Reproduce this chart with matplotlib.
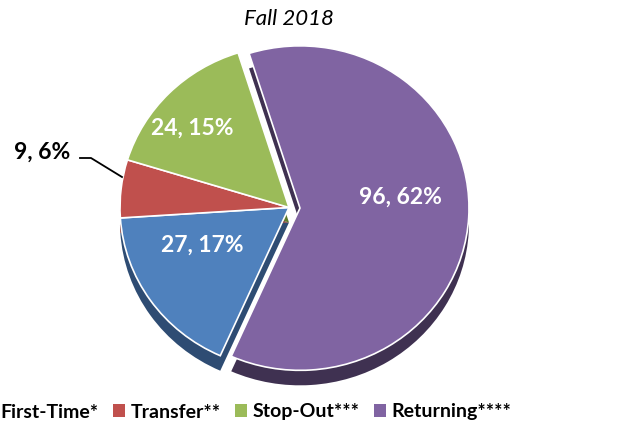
import matplotlib.pyplot as plt
from matplotlib.patches import Patch

categories = ['First-Time*', 'Transfer**', 'Stop-Out***', 'Returning****']
counts = [27, 9, 24, 96]
pct_labels = ['17%', '6%', '15%', '62%']
colors = ['#4F81BD', '#C0504D', '#9BBB59', '#8064A2']
dark = ['#2E4C73', '#7A2F2D', '#5E7A2E', '#3F3151']

plt.rcParams['font.family'] = ['Lato', 'DejaVu Sans']

W, H = 617, 429
fig = plt.figure(figsize=(W / 100, H / 100), dpi=100)

# pie axes, y squashed a little to give the tilted look
squash = 0.96
ax = fig.add_axes([0, 0, 1, 1])
cx, cy, r = 289, 221.5 / squash, 169
depth = 15 / squash
explode = [0, 0, 0, 11]  # data units, only Returning pulled out

ax.pie(counts, colors=dark, explode=explode, startangle=246, counterclock=False,
       center=(cx, cy - depth), radius=r, frame=True,
       wedgeprops=dict(linewidth=0))
ax.pie(counts, colors=colors, explode=explode, startangle=246,
       counterclock=False, center=(cx, cy), radius=r, frame=True,
       wedgeprops=dict(edgecolor='white', linewidth=1.2))
ax.set_xlim(0, W)
ax.set_ylim(0, H / squash)
ax.set_aspect('auto')
ax.axis('off')

# overlay in pixel units for the labels
ax2 = fig.add_axes([0, 0, 1, 1])
ax2.set_xlim(0, W)
ax2.set_ylim(H, 0)
ax2.axis('off')

lab = [f'{c}, {p}' for c, p in zip(counts, pct_labels)]
kw = dict(fontsize=16.5, fontweight='bold', ha='center', va='center')
ax2.text(202, 245, lab[0], color='white', **kw)
ax2.text(192, 128, lab[2], color='white', **kw)
ax2.text(400, 197, lab[3], color='white', **kw)
ax2.text(42, 152, lab[1], color='black', **kw)
ax2.plot([80, 91, 122], [158, 158, 177], color='black', lw=1.3)

fig.text(0.468, 1 - 19 / H, 'Fall 2018', fontsize=16, fontstyle='italic',
         ha='center', va='center')

handles = [Patch(facecolor=c, edgecolor='none') for c in colors]
fig.legend(handles, categories, loc='center left', bbox_to_anchor=(-17 / W, 1 - 412 / H),
           ncol=4, frameon=False, borderpad=0, borderaxespad=0,
           handlelength=0.62, handleheight=0.62,
           handletextpad=0.27, columnspacing=0.75,
           prop=dict(weight='bold', size=14))

fig.savefig('out.png', dpi=100)
